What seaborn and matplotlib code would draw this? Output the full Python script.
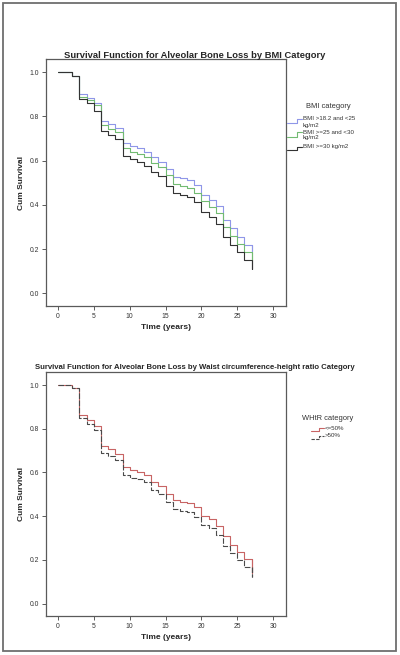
import numpy as np
import pandas as pd
import matplotlib
matplotlib.use("Agg")
import matplotlib.pyplot as plt
from matplotlib.lines import Line2D
from matplotlib.patches import Rectangle
import seaborn as sns

# ---------------- data ----------------
time = list(range(0, 28))  # 0..27 years

bmi_normal = [1.0, 1.0, 0.985, 0.900, 0.883, 0.861, 0.780, 0.765, 0.746, 0.680, 0.666, 0.656,
              0.641, 0.615, 0.596, 0.561, 0.527, 0.520, 0.512, 0.488, 0.445, 0.421, 0.395,
              0.331, 0.294, 0.256, 0.218, 0.19]
bmi_over = [1.0, 1.0, 0.985, 0.890, 0.874, 0.850, 0.760, 0.745, 0.729, 0.656, 0.641, 0.630,
            0.615, 0.591, 0.570, 0.535, 0.495, 0.486, 0.475, 0.455, 0.420, 0.392, 0.365,
            0.299, 0.258, 0.224, 0.189, 0.15]
bmi_obese = [1.0, 1.0, 0.985, 0.878, 0.863, 0.827, 0.735, 0.717, 0.698, 0.621, 0.607, 0.596,
             0.576, 0.549, 0.531, 0.487, 0.452, 0.445, 0.437, 0.412, 0.366, 0.347, 0.312,
             0.253, 0.220, 0.187, 0.151, 0.11]
bmi_labels = ["BMI >18.2 and <25\nkg/m2", "BMI >=25 and <30\nkg/m2", "BMI >=30 kg/m2"]

whtr_low = [1.0, 1.0, 0.985, 0.864, 0.842, 0.814, 0.721, 0.706, 0.686, 0.626, 0.612, 0.603,
            0.590, 0.555, 0.537, 0.502, 0.475, 0.466, 0.460, 0.442, 0.401, 0.385, 0.356,
            0.309, 0.268, 0.234, 0.204, 0.14]
whtr_high = [1.0, 1.0, 0.985, 0.849, 0.824, 0.795, 0.691, 0.676, 0.656, 0.590, 0.575, 0.569,
             0.555, 0.520, 0.502, 0.465, 0.431, 0.425, 0.419, 0.397, 0.359, 0.344, 0.314,
             0.265, 0.231, 0.199, 0.167, 0.12]
whtr_labels = ["<=50%", ">50%"]

x_ticks = [0, 5, 10, 15, 20, 25, 30]
y_ticks = [0.0, 0.2, 0.4, 0.6, 0.8, 1.0]

# ---------------- style ----------------
sns.set_style("white")
plt.rcParams["font.family"] = ["Liberation Sans", "DejaVu Sans"]

W, H = 400, 655
fig = plt.figure(figsize=(W / 100, H / 100), dpi=100)
fig.patch.set_facecolor("white")

def fx(px):
    return px / W

def fy(py):
    return 1 - py / H

# outer border
fig.patches.append(Rectangle((fx(3), fy(651)), fx(393), (648) / H, transform=fig.transFigure,
                             fill=False, edgecolor="#6e6e6e", linewidth=1.3))

spine_col = "#5a5a5a"
LW = 0.8
AX_L, AX_W = 46, 240

def style_ax(ax, title, tsize, tpad):
    ax.set_xlim(-1.67, 31.8)
    ax.set_ylim(-0.057, 1.06)
    ax.set_xticks(x_ticks)
    ax.set_xticklabels([str(t) for t in x_ticks])
    ax.set_yticks(y_ticks)
    ax.set_yticklabels([f"{t:.1f}" for t in y_ticks])
    ax.tick_params(axis="both", direction="out", length=3, width=0.7, color=spine_col,
                   labelsize=4.9, labelcolor="#333333", pad=2, bottom=True, left=True)
    for s in ax.spines.values():
        s.set_color(spine_col)
        s.set_linewidth(0.9)
    ax.set_xlabel("Time (years)", fontsize=6, fontweight="bold", labelpad=3)
    ax.set_ylabel("Cum Survival", fontsize=6, fontweight="bold", labelpad=3)
    ax.set_title(title, fontsize=tsize, fontweight="bold", pad=tpad,
                 x=(195 - AX_L) / AX_W, ha="center")

# ---------------- top panel ----------------
ax1 = fig.add_axes([fx(AX_L), fy(306), fx(AX_W), (306 - 59) / H])
df1 = pd.DataFrame({
    "time": time * 3,
    "surv": bmi_normal + bmi_over + bmi_obese,
    "group": [bmi_labels[0]] * len(time) + [bmi_labels[1]] * len(time) + [bmi_labels[2]] * len(time),
})
pal1 = {bmi_labels[0]: "#8f96e8", bmi_labels[1]: "#72bb72", bmi_labels[2]: "#333333"}
for g in bmi_labels:
    sub = df1[df1["group"] == g]
    sns.lineplot(data=sub, x="time", y="surv", ax=ax1, color=pal1[g], drawstyle="steps-post",
                 linewidth=LW, legend=False)
for g, lo in zip(bmi_labels, [bmi_normal, bmi_over, bmi_obese]):
    ax1.plot([27, 27], [lo[-2], lo[-1]], color=pal1[g], linewidth=LW)
style_ax(ax1, "Survival Function for Alveolar Bone Loss by BMI Category", 6.75, 1.0)

# ---------------- bottom panel ----------------
ax2 = fig.add_axes([fx(AX_L), fy(616), fx(AX_W), (616 - 372) / H])
df2 = pd.DataFrame({
    "time": time * 2,
    "surv": whtr_low + whtr_high,
    "group": [whtr_labels[0]] * len(time) + [whtr_labels[1]] * len(time),
})
pal2 = {whtr_labels[0]: "#c86464", whtr_labels[1]: "#4a4a4a"}
sns.lineplot(data=df2[df2["group"] == whtr_labels[0]], x="time", y="surv", ax=ax2,
             color=pal2[whtr_labels[0]], drawstyle="steps-post", linewidth=LW, legend=False)
sns.lineplot(data=df2[df2["group"] == whtr_labels[1]], x="time", y="surv", ax=ax2,
             color=pal2[whtr_labels[1]], drawstyle="steps-post", linewidth=LW, legend=False,
             linestyle=(0, (5, 1.5)))
ax2.plot([27, 27], [whtr_low[-2], whtr_low[-1]], color=pal2[whtr_labels[0]], linewidth=LW)
ax2.plot([27, 27], [whtr_high[-2], whtr_high[-1]], color=pal2[whtr_labels[1]], linewidth=LW,
         linestyle=(0, (5, 1.5)))
style_ax(ax2, "Survival Function for Alveolar Bone Loss by Waist circumference-height ratio Category",
         5.55, 2.5)

# ---------------- legends (manual, step glyphs) ----------------
def step_glyph(x0, x1, ylow, yhigh, color, ls="-"):
    xm = x0 + (x1 - x0) * 0.65
    xs = [fx(x0), fx(xm), fx(xm), fx(x1)]
    ys = [fy(ylow), fy(ylow), fy(yhigh), fy(yhigh)]
    fig.lines.append(Line2D(xs, ys, transform=fig.transFigure, color=color, linewidth=0.8,
                            linestyle=ls))

fig.text(fx(328), fy(107), "BMI category", fontsize=5.4, color="#333333", ha="center", va="center")
entries1 = [(123, 119), (137, 132), (150, 147)]
for g, (ylo, yhi) in zip(bmi_labels, entries1):
    step_glyph(287, 302, ylo, yhi, pal1[g])
    lines = g.split("\n")
    fig.text(fx(303), fy(yhi), lines[0], fontsize=4.4, color="#333333", ha="left", va="center")
    if len(lines) > 1:
        fig.text(fx(303), fy(yhi + 6), lines[1], fontsize=4.4, color="#333333", ha="left", va="center")

fig.text(fx(328), fy(418), "WHtR category", fontsize=5.4, color="#333333", ha="center", va="center")
entries2 = [(431, 428), (439, 435.5)]
for g, (ylo, yhi), ls in zip(whtr_labels, entries2, ["-", (0, (3, 1.2))]):
    step_glyph(311, 324, ylo, yhi, pal2[g], ls)
    fig.text(fx(325), fy(yhi), g, fontsize=4.4, color="#333333", ha="left", va="center")

fig.savefig("out.png", dpi=100)
